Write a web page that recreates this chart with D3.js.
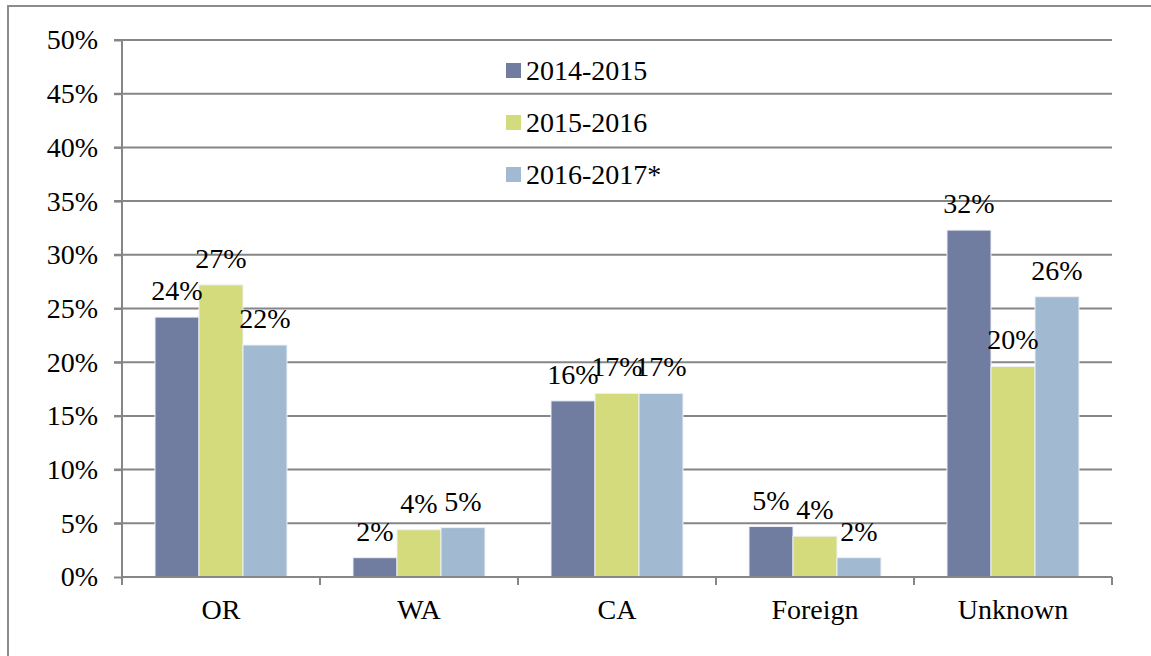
<!DOCTYPE html>
<html lang="en">
<head>
  <meta charset="UTF-8">
  <title>Share by origin</title>
  <script src="https://d3js.org/d3.v7.min.js"></script>
  <style>
    body { margin: 0; background: #fff; }
    svg { display: block; }
    svg text { font-family: "Liberation Serif", "Times New Roman", serif; }
    .grid line { stroke: #868686; stroke-width: 2; }
    .axis path, .axis line { stroke: #868686; stroke-width: 2; }
    .axis text { font-family: "Liberation Serif", "Times New Roman", serif; font-size: 28px; fill: #000; }
    .label { font-size: 28px; fill: #000; text-anchor: middle; }
    .legend text { font-size: 28px; fill: #000; }
  </style>
</head>
<body>
  <svg width="1151" height="656"></svg>
  <script>
    const categories = ["OR", "WA", "CA", "Foreign", "Unknown"];
    const seriesNames = ["2014-2015", "2015-2016", "2016-2017*"];
    const values2014 = [24.2, 1.8, 16.4, 4.7, 32.3];
    const values2015 = [27.2, 4.4, 17.1, 3.8, 19.6];
    const values2016 = [21.6, 4.6, 17.1, 1.8, 26.1];
    const colors = ["#717ca1", "#d4db7c", "#a1b9d1"];
    const yTicks = [0, 5, 10, 15, 20, 25, 30, 35, 40, 45, 50];

    const allValues = [values2014, values2015, values2016];

    const svg = d3.select("svg");
    const margin = { top: 40, left: 122, right: 39, bottom: 79 };
    const width = 1151 - margin.left - margin.right;
    const height = 656 - margin.top - margin.bottom;

    // outer frame
    svg.append("path")
      .attr("d", "M8,656 L8,6 L1151,6")
      .attr("fill", "none")
      .attr("stroke", "#8c8c8c")
      .attr("stroke-width", 2);

    const chart = svg.append("g")
      .attr("transform", `translate(${margin.left},${margin.top})`);

    const x = d3.scaleBand().domain(categories).range([0, width]);
    const inner = d3.scaleBand().domain(seriesNames)
      .range([0, x.bandwidth()]).paddingOuter(0.75).paddingInner(0);
    const y = d3.scaleLinear().domain([0, 50]).range([height, 0]);

    // gridlines
    chart.append("g").attr("class", "grid")
      .selectAll("line")
      .data(yTicks.filter(d => d > 0))
      .join("line")
      .attr("x1", -8).attr("x2", width)
      .attr("y1", d => y(d)).attr("y2", d => y(d));

    // bars
    const groups = chart.selectAll(".cat")
      .data(categories)
      .join("g")
      .attr("class", "cat")
      .attr("transform", d => `translate(${x(d)},0)`);

    seriesNames.forEach((s, si) => {
      groups.append("rect")
        .attr("x", inner(s))
        .attr("width", inner.bandwidth())
        .attr("y", (d, i) => y(allValues[si][i]))
        .attr("height", (d, i) => height - y(allValues[si][i]))
        .attr("fill", colors[si])
        .attr("stroke", "#eef1f6")
        .attr("stroke-width", 1);
    });

    // y axis
    const yAxis = chart.append("g").attr("class", "axis")
      .call(d3.axisLeft(y).tickValues(yTicks).tickSize(8).tickPadding(16)
        .tickFormat(d => d + "%"));
    yAxis.select(".domain").attr("d", `M0,0V${height + 8}`);

    // x axis
    const xAxis = chart.append("g").attr("class", "axis")
      .attr("transform", `translate(0,${height})`)
      .call(d3.axisBottom(x).tickSize(0).tickPadding(22));
    xAxis.select(".domain").attr("d", `M0,0H${width}`);
    xAxis.selectAll(".tick").append("line")
      .attr("x1", x.bandwidth() / 2).attr("x2", x.bandwidth() / 2)
      .attr("y1", 0).attr("y2", 8);
    xAxis.selectAll(".tick text").attr("dy", "0.71em");

    // data labels
    seriesNames.forEach((s, si) => {
      groups.append("text")
        .attr("class", "label")
        .attr("x", inner(s) + inner.bandwidth() / 2)
        .attr("y", (d, i) => y(allValues[si][i]) - 17)
        .text((d, i) => Math.round(allValues[si][i]) + "%");
    });

    // legend
    const legend = svg.append("g").attr("class", "legend")
      .attr("transform", "translate(506,63)");
    seriesNames.forEach((s, si) => {
      const row = legend.append("g").attr("transform", `translate(0,${si * 52})`);
      row.append("rect").attr("width", 15).attr("height", 15).attr("fill", colors[si]);
      row.append("text").attr("x", 20).attr("y", 17).text(s);
    });
  </script>
</body>
</html>
